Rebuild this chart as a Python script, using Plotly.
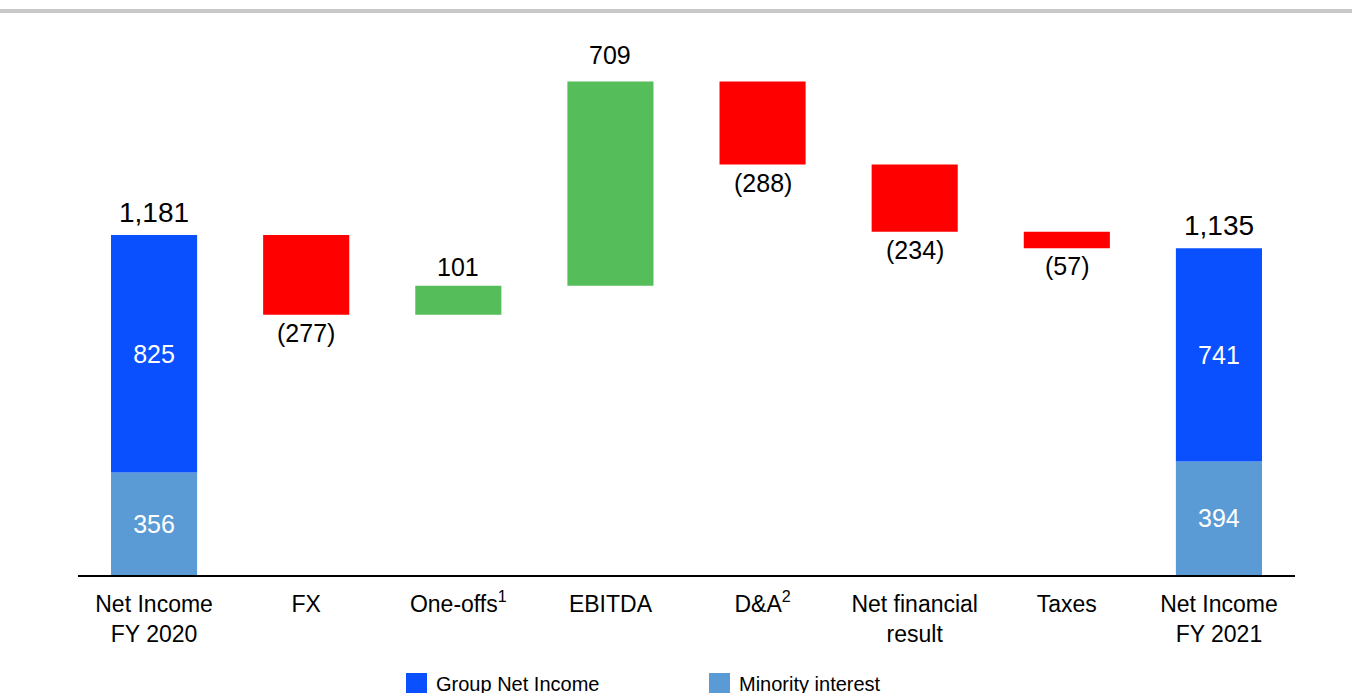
import plotly.graph_objects as go

# Net income bridge FY 2020 -> FY 2021
categories = ["Net Income<br>FY 2020", "FX", "One-offs<sup>1</sup>", "EBITDA",
              "D&A<sup>2</sup>", "Net financial<br>result", "Taxes", "Net Income<br>FY 2021"]
start_group = 825
start_minority = 356
end_group = 741
end_minority = 394
deltas = [-277, 101, 709, -288, -234, -57]   # FX .. Taxes

BLUE = "#0A50FF"
LIGHT_BLUE = "#5B9BD5"
RED = "#FF0000"
GREEN = "#55BE5A"
FONT = "Liberation Sans, Arial, sans-serif"

x = list(range(len(categories)))
bar_w = 0.566

start_total = start_group + start_minority
end_total = end_group + end_minority

# cumulative bases for the bridge steps
bases, running = [], start_total
for d in deltas:
    bases.append(running if d >= 0 else running + d)
    running += d

fig = go.Figure()

# totals: minority at the bottom, group on top
fig.add_bar(x=[x[0], x[-1]], y=[start_minority, end_minority], base=[0, 0],
            marker_color=LIGHT_BLUE, width=bar_w, showlegend=False,
            text=[f"{start_minority:,}", f"{end_minority:,}"], textposition="inside",
            insidetextanchor="middle", textfont=dict(color="white", size=25, family=FONT))
fig.add_bar(x=[x[0], x[-1]], y=[start_group, end_group], base=[start_minority, end_minority],
            marker_color=BLUE, width=bar_w, showlegend=False,
            text=[f"{start_group:,}", f"{end_group:,}"], textposition="inside",
            insidetextanchor="middle", textfont=dict(color="white", size=25, family=FONT))

# bridge steps
fig.add_bar(x=x[1:-1], y=[abs(d) for d in deltas], base=bases,
            marker_color=[GREEN if d >= 0 else RED for d in deltas],
            width=bar_w, showlegend=False)
for b in fig.data:
    b.marker.line.width = 0

annotations = []
# total labels above the totals
for xi, tot in ((x[0], start_total), (x[-1], end_total)):
    annotations.append(dict(x=xi, y=tot, text=f"{tot:,}", showarrow=False,
                            yanchor="bottom", yshift=5,
                            font=dict(size=28, color="black", family=FONT)))
# step labels (the tall EBITDA step keeps its label a little higher)
for xi, d, b in zip(x[1:-1], deltas, bases):
    if d >= 0:
        annotations.append(dict(x=xi, y=b + d, text=f"{d:,}", showarrow=False,
                                yanchor="bottom", yshift=11 if d > 500 else 3,
                                font=dict(size=25, color="black", family=FONT)))
    else:
        annotations.append(dict(x=xi, y=b, text=f"({abs(d):,})", showarrow=False,
                                yanchor="top", yshift=-2,
                                font=dict(size=25, color="black", family=FONT)))

# legend drawn as swatches plus text below the axis labels
legend_items = [("Group Net Income", BLUE, 406), ("Minority interest", LIGHT_BLUE, 709)]
shapes = []
for label, color, px in legend_items:
    shapes.append(dict(type="rect", xref="paper", yref="paper",
                       x0=(px - 78) / 1217, x1=(px + 21 - 78) / 1217,
                       y0=(575 - 693) / 555, y1=(575 - 673) / 555,
                       fillcolor=color, line=dict(width=0)))
    annotations.append(dict(xref="paper", yref="paper", x=(px + 28 - 78) / 1217,
                            y=(575 - 684) / 555, xanchor="left", yanchor="middle",
                            text=label, showarrow=False,
                            font=dict(size=20, color="black", family=FONT)))

# grey rule across the top
shapes.append(dict(type="line", xref="paper", yref="paper",
                   x0=-78 / 1217, x1=(1352 - 78) / 1217,
                   y0=(575 - 11) / 555, y1=(575 - 11) / 555,
                   line=dict(color="#C8C8C8", width=4)))

fig.update_layout(
    width=1352, height=693,
    margin=dict(l=78, r=57, t=20, b=118),
    paper_bgcolor="white", plot_bgcolor="white",
    barmode="overlay",
    showlegend=False,
    annotations=annotations,
    shapes=shapes,
    font=dict(family=FONT, color="black"),
)
fig.update_xaxes(range=[-0.5, len(categories) - 0.5], tickvals=x, ticktext=categories,
                 showgrid=False, zeroline=False, showline=True, linecolor="black",
                 linewidth=2, ticks="", tickfont=dict(size=23, color="black", family=FONT),
                 ticklabelstandoff=7)
fig.update_yaxes(range=[0, 1928], visible=False, showgrid=False, zeroline=False)

fig.write_html("out.html")
